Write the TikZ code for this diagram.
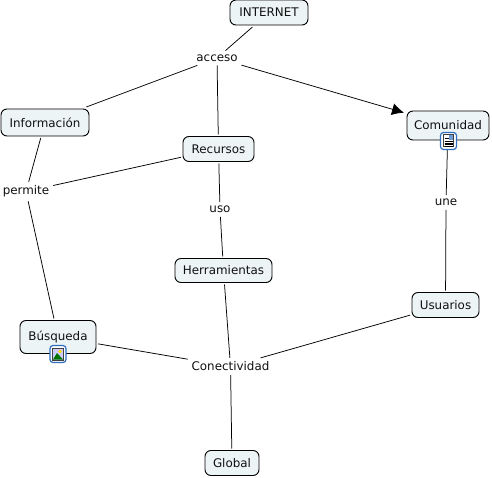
\documentclass[tikz,border=0pt]{standalone}
\usepackage{fontspec}
\setmainfont{DejaVu Sans}
\usetikzlibrary{arrows.meta}
\definecolor{boxfill}{HTML}{EDF4F6}
\definecolor{ink}{HTML}{111111}
\definecolor{iconblue}{HTML}{2F6FC0}
\tikzset{
 x=1pt,y=-1pt,
 concept/.style={draw=black,line width=0.9pt,fill=boxfill,rounded corners=6pt,minimum width=#1,inner sep=0pt,outer sep=2pt,text=ink,font=\fontsize{11.9}{14}\selectfont,align=center},
 link/.style={fill=none,inner sep=3pt,outer sep=1pt,text=ink,font=\fontsize{11.9}{14}\selectfont},
 conn/.style={draw=black,line width=0.75pt},
 iconbox/.style={draw=iconblue,line width=1.2pt,fill=white,rounded corners=3pt,minimum width=16pt,minimum height=17pt,inner sep=0pt},
}
\begin{document}
\begin{tikzpicture}
\useasboundingbox (0,0) rectangle (492,478);
\fill[white] (0,0) rectangle (492,478);
\node[concept=78pt,minimum height=25pt] (internet) at (269,12.5) {INTERNET};
\node[concept=82pt,minimum height=29pt] (comunidad) at (448,125.5) {\raisebox{2pt}{Comunidad}};
\node[concept=88pt,minimum height=27pt] (info) at (45,122.5) {Información};
\node[concept=71pt,minimum height=25pt] (recursos) at (218.5,149) {Recursos};
\node[concept=97pt,minimum height=24pt] (herr) at (223.5,270.5) {Herramientas};
\node[concept=67pt,minimum height=25pt] (usuarios) at (445.5,305) {Usuarios};
\node[concept=76pt,minimum height=33pt] (busq) at (58,337) {\raisebox{2pt}{Búsqueda}};
\node[concept=54pt,minimum height=25pt] (global) at (232,463) {Global};
\node[link] (acceso) at (217,58) {acceso};
\node[link] (permite) at (26,191.5) {permite};
\node[link] (uso) at (220,209.5) {uso};
\node[link] (une) at (446,202.5) {une};
\node[link] (conect) at (230.5,366.5) {Conectividad};
\draw[conn] (internet) -- (acceso);
\draw[conn] (acceso) -- (info);
\draw[conn] (acceso) -- (recursos);
\draw[conn,-{Latex[length=12pt,width=12pt]},shorten >=1pt] (acceso) -- (comunidad);
\draw[conn] (info) -- (permite);
\draw[conn] (recursos) -- (permite);
\draw[conn] (permite) -- (busq);
\draw[conn] (recursos) -- (uso);
\draw[conn] (uso) -- (herr);
\draw[conn] (comunidad) -- (une);
\draw[conn] (une) -- (usuarios);
\draw[conn] (busq) -- (conect);
\draw[conn] (usuarios) -- (conect);
\draw[conn] (herr) -- (conect);
\draw[conn] (conect) -- (global);
% document icon
\node[iconbox] (docicon) at (448.5,141) {};
\fill[black!75] (443,134.5) rectangle (454,147.5);
\fill[white] (444,135.5) rectangle (453,146.5);
\fill[iconblue!70] (449,135.5) rectangle (453,140);
\foreach \y in {138,141.5,143,144.5,146}{\draw[black,line width=0.6pt] (444.5,\y) -- (448.5+\y*0-0+4*0,\y);}
\foreach \y in {141.5,143,144.5,146}{\draw[black,line width=0.6pt] (444.5,\y) -- (452.5,\y);}
% image icon
\node[iconbox] (imgicon) at (58,354) {};
\fill[black!75] (52,347.5) rectangle (64,360.5);
\fill[white!80!blue] (53,348.5) rectangle (63,359.5);
\fill[yellow!80!orange] (60,351.5) circle (1.8pt);
\fill[green!45!black] (53,359.5) -- (57,353) -- (63,359.5) -- cycle;
\end{tikzpicture}
\end{document}
